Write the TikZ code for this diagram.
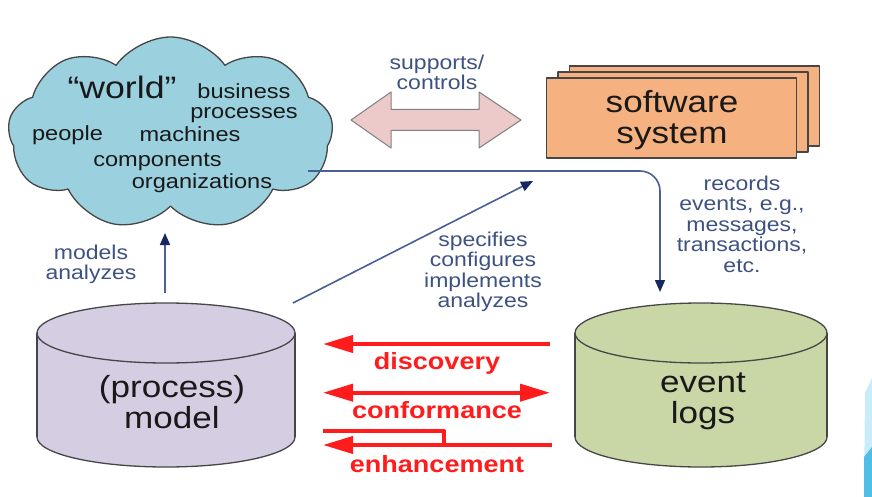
\documentclass[tikz,border=0pt]{standalone}
\usepackage{fontspec}
\setmainfont{Liberation Sans}[FakeStretch=1.15]
\usetikzlibrary{arrows.meta,shapes.symbols}

\definecolor{cloudblue}{RGB}{155,208,222}
\definecolor{ctrlpink}{RGB}{236,202,202}
\definecolor{swfill}{RGB}{245,178,128}
\definecolor{modelfill}{RGB}{213,205,225}
\definecolor{logfill}{RGB}{201,215,166}
\definecolor{lbltext}{RGB}{62,82,130}
\definecolor{flowline}{RGB}{72,96,148}
\definecolor{flowtip}{RGB}{22,40,98}
\definecolor{pmred}{RGB}{255,28,28}
\definecolor{edgegray}{RGB}{70,70,70}
\definecolor{slidelight}{RGB}{200,236,250}
\definecolor{slidedark}{RGB}{80,190,230}

\begin{document}
\begin{tikzpicture}[x=1pt, y=-1pt, line join=round,
  lbl/.style={text=lbltext, font=\fontsize{20}{20.5}\selectfont, align=center, anchor=north, inner sep=0pt},
  worldtxt/.style={text=black!90, font=\fontsize{20.5}{20}\selectfont, align=center, anchor=north, inner sep=0pt},
  bigtxt/.style={text=black!90, font=\fontsize{30.5}{31}\selectfont, align=center, anchor=north, inner sep=0pt},
  redlbl/.style={text=pmred, font=\bfseries\fontsize{23.5}{24}\selectfont, anchor=north, inner sep=0pt},
  outline/.style={draw=edgegray, line width=1.3pt},
  swbox/.style={outline, fill=swfill, minimum width=250pt, minimum height=80pt, inner sep=0pt},
  flow/.style={draw=flowline, line width=1.6pt, -{Triangle[length=12pt,width=10pt,color=flowtip]}},
  redline/.style={draw=pmred, line width=4pt},
  redarrow/.style={redline, -{Triangle[length=30pt,width=17pt]}}]
  \useasboundingbox (0,0) rectangle (872,497);

  % the world
  \node[cloud, cloud puffs=9, cloud puff arc=110, cloud ignores aspect, outline, fill=cloudblue,
        minimum width=325pt, minimum height=193pt] (world) at (170.5,133.5) {};
  \node[anchor=north, inner sep=0pt, text=black!90, font=\fontsize{31}{31}\selectfont] (worldname) at (122,75.7) {“world”};
  \node[worldtxt] (business) at (244,83.2) {business\\processes};
  \node[worldtxt] (people) at (67.5,125.2) {people};
  \node[worldtxt] (machines) at (190,126.9) {machines};
  \node[worldtxt] (components) at (157.5,153.2) {components};
  \node[worldtxt] (organizations) at (202,173.2) {organizations};

  % supports / controls
  \draw[draw=gray, line width=1pt, fill=ctrlpink] (351,120) -- (391,92) -- (391,109.5) -- (479,109.5)
    -- (479,92) -- (521,120) -- (479,148) -- (479,130.5) -- (391,130.5) -- (391,148) -- cycle;
  \node[lbl] (suplbl) at (437,54.6) {supports/\\controls};

  % software system
  \foreach \d in {2,1} \node[swbox] at (671.5+11.5*\d,118-6*\d) {};
  \node[swbox] (software) at (671.5,118) {};
  \node[bigtxt] (swtext) at (672,90) {software\\system};

  % process model
  \draw[outline, fill=modelfill] (166,437) ellipse[x radius=129, y radius=30];
  \fill[modelfill] (37,333) rectangle (295,437);
  \draw[outline] (37,333) -- (37,437) (295,333) -- (295,437);
  \draw[outline, fill=modelfill] (166,333) ellipse[x radius=129, y radius=30];
  \node[bigtxt] (model) at (172,374.7) {(process)\\model};

  % event logs
  \draw[outline, fill=logfill] (701,437) ellipse[x radius=126, y radius=30];
  \fill[logfill] (575,333) rectangle (827,437);
  \draw[outline] (575,333) -- (575,437) (827,333) -- (827,437);
  \draw[outline, fill=logfill] (701,333) ellipse[x radius=126, y radius=30];
  \node[bigtxt] (logs) at (703,373) {event\\logs};

  % blue connectors
  \coordinate (modeltop) at (165,293);
  \coordinate (worldbottom) at (165,233);
  \coordinate (modelright) at (293,303);
  \coordinate (swlow) at (533,181);
  \coordinate (recstart) at (308,171);
  \coordinate (logtop) at (660,292);
  \draw[flow] (modeltop) -- (worldbottom);
  \draw[flow] (modelright) -- (swlow);
  \draw[flow, rounded corners=20pt] (recstart) -| (logtop);
  \node[lbl] (modlbl) at (91,244.6) {models\\analyzes};
  \node[lbl] (speclbl) at (483,231.6) {specifies\\configures\\implements\\analyzes};
  \node[lbl] (reclbl) at (742,175.6) {records\\events, e.g.,\\messages,\\transactions,\\etc.};

  % red connectors
  \coordinate (discR) at (550,344);
  \coordinate (discL) at (323,344);
  \coordinate (confL) at (323,392.7);
  \coordinate (confR) at (550,392.7);
  \coordinate (enhtop) at (323,431);
  \coordinate (enhjoin) at (444,445);
  \coordinate (enhR) at (552,445);
  \coordinate (enhL) at (323,445);
  \draw[redarrow] (discR) -- (discL);
  \draw[redarrow, {Triangle[length=30pt,width=17pt]}-{Triangle[length=30pt,width=17pt]}] (confL) -- (confR);
  \draw[redline] (enhtop) -| (enhjoin);
  \draw[redarrow] (enhR) -- (enhL);
  \node[redlbl] (disclbl) at (437,352.4) {discovery};
  \node[redlbl] (conflbl) at (437,400.8) {conformance};
  \node[redlbl] (enhlbl) at (437,454.8) {enhancement};

  % slide corner
  \fill[slidelight] (865,393) -- (872,378) -- (872,497) -- (864,497) -- cycle;
  \fill[slidedark] (864,457) -- (872,447) -- (872,497) -- (864,497) -- cycle;
\end{tikzpicture}
\end{document}
